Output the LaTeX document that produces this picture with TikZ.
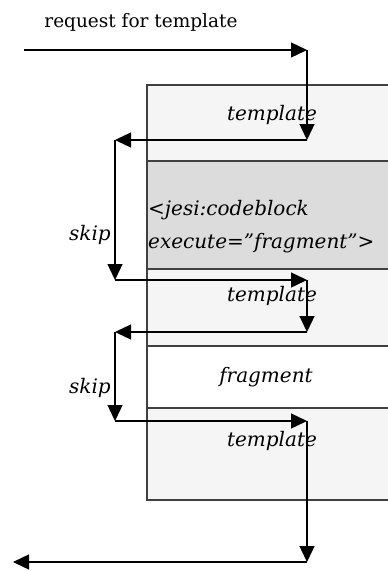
\documentclass[tikz,border=0pt]{standalone}
\usepackage{fontspec}
\setmainfont{DejaVu Serif}
\usetikzlibrary{arrows.meta}
\definecolor{lightsec}{HTML}{F5F5F5}
\definecolor{darksec}{HTML}{DCDCDC}
\definecolor{boxline}{HTML}{404040}
\begin{document}
\begin{tikzpicture}[x=1pt,y=-1pt,
  sec/.style={draw=boxline,line width=1.3pt},
  flow/.style={draw=black,line width=1.3pt,-{Triangle[length=16pt,width=15pt]}},
  lab/.style={inner sep=0pt,font=\fontsize{20}{24}\selectfont\itshape},
  titlelab/.style={inner sep=0pt,font=\fontsize{18.5}{22}\selectfont}]
\useasboundingbox[fill=white] (0,0) rectangle (388,571);
\begin{scope}
\clip (0,0) rectangle (388,571);
\path[sec,fill=lightsec] (147,85) rectangle (400,161);
\path[sec,fill=darksec] (147,161) rectangle (400,269);
\path[sec,fill=lightsec] (147,269) rectangle (400,346);
\path[sec,fill=white] (147,346) rectangle (400,408);
\path[sec,fill=lightsec] (147,408) rectangle (400,500);
\end{scope}
% texts
\node[titlelab,anchor=base] (title) at (141,27) {request for template};
\node[lab,anchor=base] (t1) at (272,120) {template};
\node[lab,anchor=base west] (cb1) at (148,215) {<jesi:codeblock};
\node[lab,anchor=base west] (cb2) at (148,248) {execute=”fragment”>};
\node[lab,anchor=base] (skip1) at (90,240) {skip};
\node[lab,anchor=base] (t2) at (272,301) {template};
\node[lab,anchor=base] (frag) at (266,382) {fragment};
\node[lab,anchor=base] (skip2) at (90,393) {skip};
\node[lab,anchor=base] (t3) at (272,446) {template};
% flow coordinates
\coordinate (s0) at (24,50);
\coordinate (p1) at (307,50);
\coordinate (p2) at (307,140);
\coordinate (p3) at (115,140);
\coordinate (p4) at (115,280);
\coordinate (p5) at (307,280);
\coordinate (p6) at (307,332);
\coordinate (p7) at (115,332);
\coordinate (p8) at (115,421);
\coordinate (p9) at (307,421);
\coordinate (p10) at (307,562);
\coordinate (p11) at (13,562);
\draw[flow] (s0) -- (p1);
\draw[flow] (p1) -- (p2);
\draw[flow] (p2) -- (p3);
\draw[flow] (p3) -- (p4);
\draw[flow] (p4) -- (p5);
\draw[flow] (p5) -- (p6);
\draw[flow] (p6) -- (p7);
\draw[flow] (p7) -- (p8);
\draw[flow] (p8) -- (p9);
\draw[flow] (p9) -- (p10);
\draw[flow] (p10) -- (p11);
\end{tikzpicture}
\end{document}
